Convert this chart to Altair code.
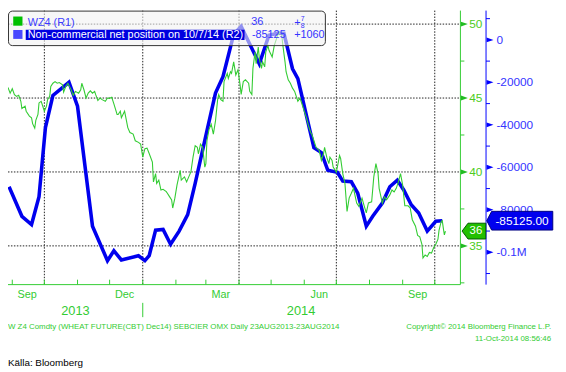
import altair as alt
import pandas as pd

# ---------------- data ----------------
wz4_dates = [
    "2013-08-28", "2013-08-30", "2013-09-01", "2013-09-03", "2013-09-05", "2013-09-07", "2013-09-09",
    "2013-09-10", "2013-09-13", "2013-09-14", "2013-09-17", "2013-09-19", "2013-09-20", "2013-09-22",
    "2013-09-23", "2013-09-25", "2013-09-26", "2013-09-28", "2013-09-29", "2013-10-01", "2013-10-03",
    "2013-10-04", "2013-10-06", "2013-10-07", "2013-10-09", "2013-10-11", "2013-10-13", "2013-10-15",
    "2013-10-18", "2013-10-19", "2013-10-21", "2013-10-23", "2013-10-26", "2013-10-28", "2013-10-30",
    "2013-11-02", "2013-11-04", "2013-11-05", "2013-11-07", "2013-11-09", "2013-11-11", "2013-11-13",
    "2013-11-15", "2013-11-17", "2013-11-18", "2013-11-20", "2013-11-22", "2013-11-24", "2013-11-27",
    "2013-11-29", "2013-12-01", "2013-12-03", "2013-12-05", "2013-12-08", "2013-12-09", "2013-12-11",
    "2013-12-12", "2013-12-15", "2013-12-18", "2013-12-20", "2013-12-23", "2013-12-25", "2013-12-28",
    "2013-12-30", "2014-01-01", "2014-01-03", "2014-01-05", "2014-01-07", "2014-01-10", "2014-01-11",
    "2014-01-13", "2014-01-14", "2014-01-16", "2014-01-18", "2014-01-20", "2014-01-23", "2014-01-24",
    "2014-01-26", "2014-01-28", "2014-01-29", "2014-01-31", "2014-02-02", "2014-02-05", "2014-02-06",
    "2014-02-09", "2014-02-11", "2014-02-13", "2014-02-15", "2014-02-17", "2014-02-19", "2014-02-21",
    "2014-02-22", "2014-02-24", "2014-02-26", "2014-02-28", "2014-03-01", "2014-03-02", "2014-03-04",
    "2014-03-06", "2014-03-08", "2014-03-10", "2014-03-12", "2014-03-13", "2014-03-15", "2014-03-17",
    "2014-03-18", "2014-03-21", "2014-03-22", "2014-03-24", "2014-03-25", "2014-03-27", "2014-03-29",
    "2014-03-31", "2014-04-02", "2014-04-03", "2014-04-05", "2014-04-07", "2014-04-10", "2014-04-11",
    "2014-04-13", "2014-04-14", "2014-04-16", "2014-04-17", "2014-04-19", "2014-04-20", "2014-04-22",
    "2014-04-23", "2014-04-25", "2014-04-26", "2014-04-28", "2014-04-29", "2014-05-02", "2014-05-04",
    "2014-05-06", "2014-05-07", "2014-05-09", "2014-05-11", "2014-05-12", "2014-05-14", "2014-05-15",
    "2014-05-17", "2014-05-19", "2014-05-21", "2014-05-23", "2014-05-26", "2014-05-28", "2014-05-30",
    "2014-06-01", "2014-06-03", "2014-06-05", "2014-06-07", "2014-06-08", "2014-06-11", "2014-06-12",
    "2014-06-15", "2014-06-17", "2014-06-19", "2014-06-20", "2014-06-22", "2014-06-24", "2014-06-25",
    "2014-06-27", "2014-06-28", "2014-06-30", "2014-07-01", "2014-07-04", "2014-07-05", "2014-07-07",
    "2014-07-09", "2014-07-11", "2014-07-13", "2014-07-15", "2014-07-17", "2014-07-20", "2014-07-22",
    "2014-07-25", "2014-07-27", "2014-07-29", "2014-07-31", "2014-08-03", "2014-08-05", "2014-08-07",
    "2014-08-09", "2014-08-10", "2014-08-13", "2014-08-15", "2014-08-17", "2014-08-20", "2014-08-22",
    "2014-08-24", "2014-08-26", "2014-08-28", "2014-08-30", "2014-09-01", "2014-09-03", "2014-09-06",
    "2014-09-08", "2014-09-10", "2014-09-13", "2014-09-15", "2014-09-17", "2014-09-19", "2014-09-20",
    "2014-09-22", "2014-09-24", "2014-09-26", "2014-09-28", "2014-09-30", "2014-10-02", "2014-10-04",
    "2014-10-05", "2014-10-07", "2014-10-08", "2014-10-09", "2014-10-10", "2014-10-11",
]
wz4_values = [
    45.71, 45.33, 45.63, 45.23, 45.11, 45.18, 44.78,
    44.29, 44.45, 44.11, 43.78, 43.67, 43.27, 42.96,
    43.49, 43.89, 44.67, 44.78, 44.56, 44.11, 44.45,
    44.89, 45.11, 45.78, 46.00, 46.11, 46.00, 46.05,
    45.89, 45.40, 45.78, 46.00, 45.56, 45.18, 45.45,
    45.33, 45.56, 46.00, 45.56, 45.00, 45.33, 45.49,
    45.33, 45.45, 45.23, 44.83, 45.00, 44.89, 44.78,
    45.00, 44.98, 45.05, 44.60, 43.89, 43.89, 44.11,
    43.67, 44.11, 43.00, 42.67, 42.56, 42.11, 42.00,
    41.89, 41.00, 41.58, 41.61, 41.25, 40.67, 39.33,
    39.89, 39.23, 39.45, 38.78, 38.83, 38.67, 38.56,
    38.33, 38.11, 37.56, 38.23, 39.11, 40.11, 39.45,
    39.67, 39.33, 39.67, 40.00, 41.00, 41.78, 41.67,
    41.23, 41.89, 41.67, 40.33, 40.56, 42.11, 42.89,
    43.23, 42.56, 43.45, 44.89, 45.23, 44.89, 44.78,
    46.11, 46.67, 46.33, 46.78, 46.67, 47.45, 46.56,
    46.91, 45.89, 45.25, 46.11, 46.23, 46.00, 45.45,
    45.23, 47.00, 48.11, 47.33, 48.45, 47.67, 47.00,
    47.45, 47.11, 48.11, 48.56, 48.23, 47.78, 48.56,
    49.00, 49.23, 49.45, 49.23, 48.56, 47.45, 46.78,
    46.23, 46.00, 45.67, 45.45, 44.78, 45.00, 44.56,
    44.11, 43.67, 43.11, 42.67, 42.56, 41.89, 41.67,
    41.45, 40.78, 41.23, 41.67, 41.00, 40.56, 41.00,
    40.78, 40.33, 40.11, 39.98, 41.11, 40.91, 39.89,
    39.25, 37.33, 38.25, 38.56, 38.89, 37.89, 37.67,
    38.23, 37.71, 37.23, 37.91, 37.98, 39.67, 40.56,
    39.89, 38.89, 37.89, 38.31, 38.11, 38.45, 38.78,
    38.65, 38.89, 39.33, 39.89, 39.11, 37.71, 37.71,
    37.58, 36.77, 36.33, 35.71, 35.61, 35.11, 34.18,
    34.38, 34.28, 34.56, 34.51, 34.89, 35.11, 35.45,
    36.05, 36.65, 36.71, 36.20, 35.75, 36.00,
]

cot_dates = [
    "2013-08-29", "2013-09-10", "2013-09-19", "2013-09-26", "2013-10-02", "2013-10-09", "2013-10-24",
    "2013-11-01", "2013-11-15", "2013-11-29", "2013-12-05", "2013-12-12", "2013-12-28", "2014-01-03",
    "2014-01-07", "2014-01-13", "2014-01-20", "2014-01-27", "2014-02-04", "2014-02-12", "2014-02-19",
    "2014-03-02", "2014-03-10", "2014-03-17", "2014-03-27", "2014-04-03", "2014-04-20", "2014-04-29",
    "2014-05-07", "2014-05-13", "2014-05-21", "2014-05-26", "2014-06-10", "2014-06-17", "2014-06-23",
    "2014-07-02", "2014-07-07", "2014-07-15", "2014-07-21", "2014-07-29", "2014-08-04", "2014-08-13",
    "2014-08-20", "2014-08-27", "2014-09-02", "2014-09-09", "2014-09-16", "2014-09-24", "2014-10-02",
    "2014-10-08",
]
cot_values = [
    -69140, -83060, -86910, -73780, -41300, -26130, -19950,
    -31230, -87700, -103940, -99300, -103620, -101620, -103940,
    -101620, -89560, -89230, -96190, -90020, -82270, -67560,
    -42830, -25060, -17310, 2640, 6360, -11280, 2180,
    3110, 3110, -13600, -18240, -50720, -53040, -61390,
    -62320, -66500, -66820, -72200, -87700, -83060, -76840,
    -69140, -66030, -70670, -77630, -81480, -90020, -85380,
    -85125,
]

green_ticks = [50, 45, 40, 35]
green_tick_labels = ["50", "45", "40", "35"]
green_minor = [47.5, 42.5, 37.5, 32.5]
blue_ticks = [0, -20000, -40000, -60000, -80000, -100000]
blue_tick_labels = ["0", "-20000", "-40000", "-60000", "-80000", "-0.1M"]
blue_minor = [10000, -10000, -30000, -50000, -70000, -90000, -110000]

quarter_dates = ["2013-10-01", "2014-01-01", "2014-04-01", "2014-07-01", "2014-10-01"]
month_dates = ["2013-09-01", "2013-10-01", "2013-11-01", "2013-12-01", "2014-01-01", "2014-02-01",
               "2014-03-01", "2014-04-01", "2014-05-01", "2014-06-01", "2014-07-01", "2014-08-01",
               "2014-09-01", "2014-10-01"]
month_label_dates = ["2013-09-15", "2013-12-15", "2014-03-15", "2014-06-15", "2014-09-15"]
month_labels = ["Sep", "Dec", "Mar", "Jun", "Sep"]
year_label_dates = ["2013-10-30", "2014-05-29"]
year_labels = ["2013", "2014"]
year_break = ["2014-01-01"]

last_wz4 = 36
last_cot = -85125

# ---------------- styling ----------------
FONT = "Liberation Sans"
GREEN = "#33cc33"
GREEN_TXT = "#4ccc22"
BLUE = "#0000ee"
BLUE_TXT = "#3535ff"
W, H = 459, 278

X = alt.Scale(type="utc", domain=[alt.DateTime(year=2013, month=8, date=28, utc=True),
                                  alt.DateTime(year=2014, month=10, date=25, utc=True)])
G = alt.Scale(domain=[32.38, 50.913], nice=False, zero=False)
B = alt.Scale(domain=[-115220, 13782], nice=False, zero=False)


def one():
    return alt.Chart(pd.DataFrame({"t": [""]}))


def vtext(s, x, y, color, size, align="left", font=FONT, **kw):
    return alt.Chart(pd.DataFrame({"t": [s]})).mark_text(
        align=align, baseline="middle", color=color, fontSize=size, font=font, **kw
    ).encode(x=alt.value(x), y=alt.value(y), text="t:N")


def vrect(x, x2, y, y2, **kw):
    return one().mark_rect(**kw).encode(
        x=alt.value(x), x2=alt.value(x2), y=alt.value(y), y2=alt.value(y2))


wz4 = pd.DataFrame({"date": wz4_dates, "v": wz4_values})
cot = pd.DataFrame({"date": cot_dates, "v": cot_values})

layers = []

# gridlines
layers.append(alt.Chart(pd.DataFrame({"v": green_ticks})).mark_rule(
    color="#222", strokeDash=[1.5, 1.5], strokeWidth=1).encode(
    y=alt.Y("v:Q", scale=G, axis=None), x=alt.value(0), x2=alt.value(W)))
layers.append(alt.Chart(pd.DataFrame({"date": quarter_dates})).mark_rule(
    color="#222", strokeDash=[1.5, 1.5], strokeWidth=1).encode(
    x=alt.X("date:T", scale=X, axis=None), y=alt.value(0), y2=alt.value(H)))

# series
layers.append(alt.Chart(cot).mark_line(color=BLUE, strokeWidth=3.6).encode(
    x=alt.X("date:T", scale=X, axis=None), y=alt.Y("v:Q", scale=B, axis=None)))
layers.append(alt.Chart(wz4).mark_line(color=GREEN, strokeWidth=1.1).encode(
    x=alt.X("date:T", scale=X, axis=None), y=alt.Y("v:Q", scale=G, axis=None)))

# legend box
layers.append(vrect(0.5, 322, 0.5, 35.5, fill="#f2f2f2", fillOpacity=0.6, stroke="#333",
                    strokeWidth=1, cornerRadius=4))
layers.append(vrect(5.3, 14.7, 6, 15.3, color="#00c000"))
layers.append(vrect(5.3, 14.7, 19.7, 28.7, color="#4848ff"))
layers.append(vrect(18, 240, 19.3, 29.7, color="#0000e0"))
layers.append(vtext("WZ4 (R1)", 20, 12.7, "#3c3cff", 11))
layers.append(vtext("Non-commercial net position on 10/7/14 (R2)", 20, 24.7, "white", 11))
layers.append(vtext("36", 246.7, 12, BLUE_TXT, 11))
layers.append(vtext("-85125", 247.5, 24.7, BLUE_TXT, 11))
layers.append(vtext("+", 290.3, 12.5, BLUE_TXT, 11))
layers.append(vtext("7", 297, 8.5, BLUE_TXT, 7))
layers.append(vtext("8", 297, 16, BLUE_TXT, 7))
layers.append(vtext("+1060", 290.3, 24.7, BLUE_TXT, 11))

# bottom axis
layers.append(one().mark_rule(color=GREEN).encode(
    x=alt.value(0), x2=alt.value(W), y=alt.value(H)))
layers.append(alt.Chart(pd.DataFrame({"date": month_dates})).mark_rule(color=GREEN).encode(
    x=alt.X("date:T", scale=X, axis=None), y=alt.value(H - 5), y2=alt.value(H)))
layers.append(alt.Chart(pd.DataFrame({"date": month_label_dates, "t": month_labels})).mark_text(
    color=GREEN, fontSize=11, font=FONT, align="center", baseline="middle").encode(
    x=alt.X("date:T", scale=X, axis=None), y=alt.value(288.3), text="t:N"))
layers.append(alt.Chart(pd.DataFrame({"date": year_label_dates, "t": year_labels})).mark_text(
    color=GREEN, fontSize=13, font=FONT, align="center", baseline="middle").encode(
    x=alt.X("date:T", scale=X, axis=None), y=alt.value(305.3), text="t:N"))
layers.append(alt.Chart(pd.DataFrame({"date": year_break})).mark_rule(color=GREEN).encode(
    x=alt.X("date:T", scale=X, axis=None), y=alt.value(296.5), y2=alt.value(311)))

TRI = "M0,-2.5L7,0L0,2.5Z"

# green (left-hand value) axis on right
layers.append(one().mark_rule(color=GREEN).encode(
    x=alt.value(W), y=alt.value(0), y2=alt.value(H)))
layers.append(alt.Chart(pd.DataFrame({"v": green_minor})).mark_rule(color=GREEN).encode(
    y=alt.Y("v:Q", scale=G, axis=None), x=alt.value(W), x2=alt.value(W + 4)))
layers.append(alt.Chart(pd.DataFrame({"v": green_ticks})).mark_point(
    shape=TRI, size=4, filled=True, fill="#22bb22", opacity=1).encode(
    y=alt.Y("v:Q", scale=G, axis=None), x=alt.value(W + 0.5)))
layers.append(alt.Chart(pd.DataFrame({"v": green_ticks, "t": green_tick_labels})).mark_text(
    color=GREEN_TXT, fontSize=12, font=FONT, align="left", baseline="middle").encode(
    y=alt.Y("v:Q", scale=G, axis=None), x=alt.value(468), text="t:N"))

# blue axis
BX = 485
layers.append(one().mark_rule(color="#0000ff").encode(
    x=alt.value(BX), y=alt.value(0), y2=alt.value(H)))
layers.append(alt.Chart(pd.DataFrame({"v": blue_minor})).mark_rule(color="#0000ff").encode(
    y=alt.Y("v:Q", scale=B, axis=None), x=alt.value(BX), x2=alt.value(BX + 4)))
layers.append(alt.Chart(pd.DataFrame({"v": blue_ticks})).mark_point(
    shape=TRI, size=4, filled=True, fill="#0000ff", opacity=1).encode(
    y=alt.Y("v:Q", scale=B, axis=None), x=alt.value(BX + 0.5)))
layers.append(alt.Chart(pd.DataFrame({"v": blue_ticks, "t": blue_tick_labels})).mark_text(
    color=BLUE_TXT, fontSize=12, font=FONT, align="left", baseline="middle").encode(
    y=alt.Y("v:Q", scale=B, axis=None), x=alt.value(495.5), text="t:N"))

# last-value boxes
layers.append(alt.Chart(pd.DataFrame({"v": [last_wz4]})).mark_point(
    shape="M0,0L6,-8L24,-8L24,8L6,8Z", size=4, filled=True, fill="#22c000",
    stroke="#005a00", strokeWidth=1, opacity=1).encode(
    y=alt.Y("v:Q", scale=G, axis=None), x=alt.value(460.7)))
layers.append(alt.Chart(pd.DataFrame({"v": [last_wz4], "t": ["36"]})).mark_text(
    color="white", fontSize=11.5, font=FONT, align="center", baseline="middle").encode(
    y=alt.Y("v:Q", scale=G, axis=None), x=alt.value(474.7), text="t:N"))
layers.append(alt.Chart(pd.DataFrame({"v": [last_cot]})).mark_point(
    shape="M0,0L5,-9.5L67,-9.5L67,9.5L5,9.5Z", size=4, filled=True, fill="#0000ee",
    stroke="#000080", strokeWidth=1, opacity=1).encode(
    y=alt.Y("v:Q", scale=B, axis=None), x=alt.value(BX + 0.7)))
layers.append(alt.Chart(pd.DataFrame({"v": [last_cot], "t": ["-85125.00"]})).mark_text(
    color="white", fontSize=12, font=FONT, align="center", baseline="middle").encode(
    y=alt.Y("v:Q", scale=B, axis=None), x=alt.value(521.5), text="t:N"))

# footer
layers.append(vtext("W Z4 Comdty (WHEAT FUTURE(CBT) Dec14) SEBCIER OMX  Daily 23AUG2013-23AUG2014",
                    0, 320.7, GREEN, 8))
layers.append(vtext("Copyright\u00a9 2014 Bloomberg Finance L.P.", 551, 320.7, GREEN, 8, align="right"))
layers.append(vtext("11-Oct-2014 08:56:46", 551, 333.4, GREEN, 8, align="right"))
layers.append(vtext("K\u00e4lla: Bloomberg", 0, 357.6, "#000000", 10,
                    font="Liberation Sans Narrow, Liberation Sans"))

chart = alt.layer(*layers).resolve_scale(y="independent").properties(
    width=W, height=H,
    padding={"left": 0, "top": 0, "right": 99, "bottom": 86},
    autosize="none",
    background="white",
).configure_view(stroke=None)

chart.save("out.html", embed_options={"renderer": "svg", "actions": False})
